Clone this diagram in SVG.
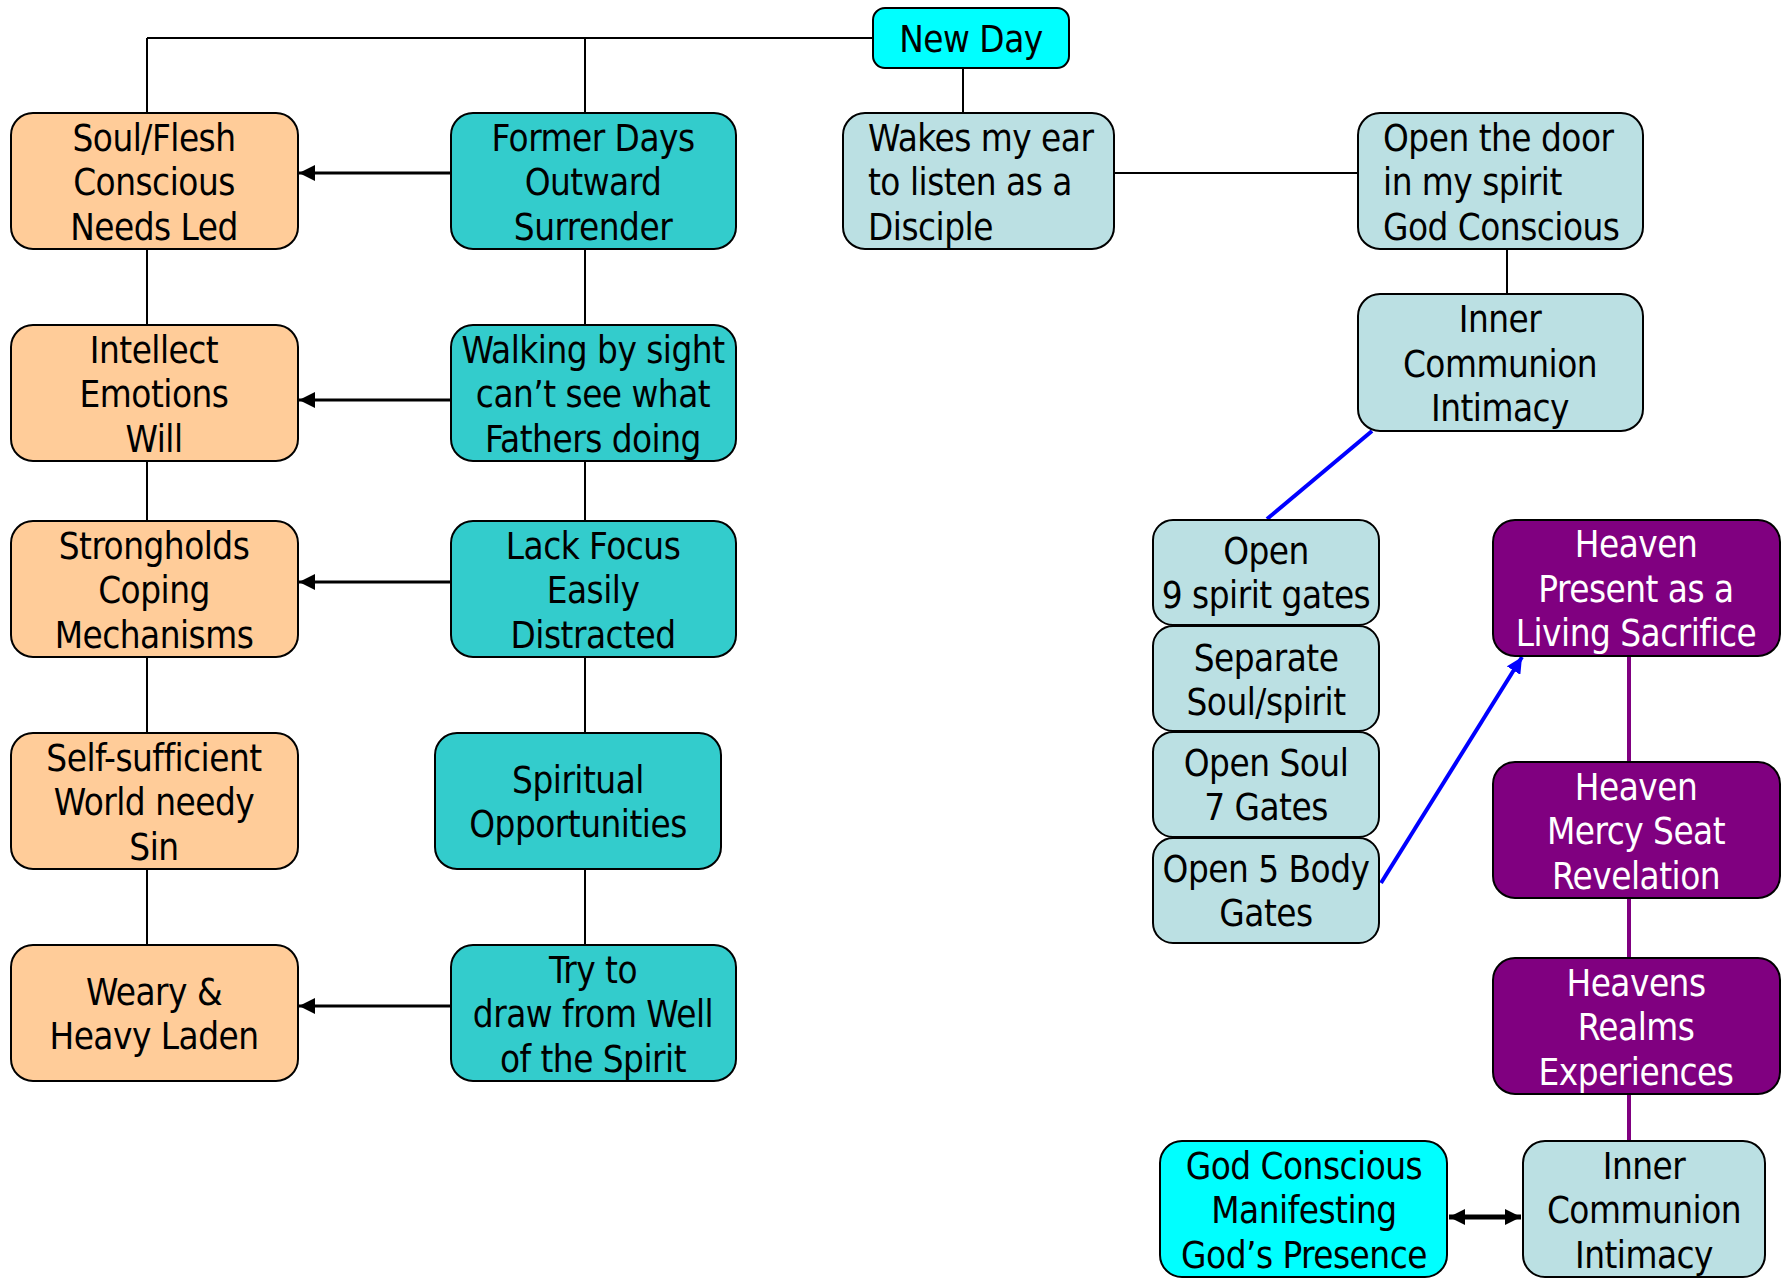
<svg xmlns="http://www.w3.org/2000/svg" width="1789" height="1279" viewBox="0 0 1789 1279">
<style>
.b{stroke:#000;stroke-width:2}
.o{fill:#FFCC99}.t{fill:#33CCCC}.l{fill:#BBE0E3}.c{fill:#00FFFF}.p{fill:#800080}
text{font-family:"DejaVu Sans Condensed","DejaVu Sans",sans-serif;font-stretch:condensed;font-size:36.5px;letter-spacing:-0.5px;fill:#000;text-anchor:middle}
.w{fill:#fff}
.s{text-anchor:start}
.ln{stroke:#000;stroke-width:2;fill:none}
.ar{stroke:#000;stroke-width:3;fill:none}
</style>
<defs>
<marker id="ah" markerUnits="userSpaceOnUse" markerWidth="18" markerHeight="16" refX="16" refY="8" orient="auto"><path d="M0,0 L16,8 L0,16 Z" fill="#000"/></marker>
<marker id="ahs" markerUnits="userSpaceOnUse" markerWidth="18" markerHeight="16" refX="0" refY="8" orient="auto"><path d="M16,0 L0,8 L16,16 Z" fill="#000"/></marker>
<marker id="bh" markerUnits="userSpaceOnUse" markerWidth="18" markerHeight="16" refX="16" refY="8" orient="auto"><path d="M0,0 L16,8 L0,16 Z" fill="#0000FF"/></marker>
</defs>
<g id="connectors">
<path class="ln" d="M147,38 H873 M147,38 V113 M585,38 V113 M147,249 V325 M147,461 V521 M147,657 V733 M147,868 V945 M585,249 V325 M585,461 V521 M585,657 V733 M585,868 V945 M963,68 V113 M1114,173 H1358 M1507,249 V294"/>
<path class="ar" d="M451,173 H299" marker-end="url(#ah)"/>
<path class="ar" d="M451,400 H299" marker-end="url(#ah)"/>
<path class="ar" d="M451,582 H299" marker-end="url(#ah)"/>
<path class="ar" d="M451,1006 H299" marker-end="url(#ah)"/>
<path d="M1372,431 L1267,519" stroke="#0000FF" stroke-width="4" fill="none"/>
<path d="M1381,883 L1522,657" stroke="#0000FF" stroke-width="4" fill="none" marker-end="url(#bh)"/>
<path d="M1629,656 V762 M1629,898 V958 M1629,1094 V1141" stroke="#800080" stroke-width="4" fill="none"/>
<path d="M1449,1217 H1521" stroke="#000" stroke-width="5" fill="none" marker-start="url(#ahs)" marker-end="url(#ah)"/>
</g>
<g id="n-newday"><rect class="b c" x="873" y="8" width="196" height="60" rx="12"/><text x="971" y="52">New Day</text></g>
<g id="n-soul"><rect class="b o" x="11" y="113" width="287" height="136" rx="22"/><text x="154" y="151">Soul/Flesh</text><text x="154" y="195">Conscious</text><text x="154" y="240">Needs Led</text></g>
<g id="n-former"><rect class="b t" x="451" y="113" width="285" height="136" rx="22"/><text x="593" y="151">Former Days</text><text x="593" y="195">Outward</text><text x="593" y="240">Surrender</text></g>
<g id="n-wakes"><rect class="b l" x="843" y="113" width="271" height="136" rx="22"/><text class="s" x="868" y="151">Wakes my ear</text><text class="s" x="868" y="195">to listen as a</text><text class="s" x="868" y="240">Disciple</text></g>
<g id="n-door"><rect class="b l" x="1358" y="113" width="285" height="136" rx="22"/><text class="s" x="1383" y="151">Open the door</text><text class="s" x="1383" y="195">in my spirit</text><text class="s" x="1383" y="240">God Conscious</text></g>
<g id="n-inner1"><rect class="b l" x="1358" y="294" width="285" height="137" rx="22"/><text x="1500" y="332">Inner</text><text x="1500" y="377">Communion</text><text x="1500" y="421">Intimacy</text></g>
<g id="n-intellect"><rect class="b o" x="11" y="325" width="287" height="136" rx="22"/><text x="154" y="363">Intellect</text><text x="154" y="407">Emotions</text><text x="154" y="452">Will</text></g>
<g id="n-walking"><rect class="b t" x="451" y="325" width="285" height="136" rx="22"/><text x="593" y="363">Walking by sight</text><text x="593" y="407">can’t see what</text><text x="593" y="452">Fathers doing</text></g>
<g id="n-strong"><rect class="b o" x="11" y="521" width="287" height="136" rx="22"/><text x="154" y="559">Strongholds</text><text x="154" y="603">Coping</text><text x="154" y="648">Mechanisms</text></g>
<g id="n-lack"><rect class="b t" x="451" y="521" width="285" height="136" rx="22"/><text x="593" y="559">Lack Focus</text><text x="593" y="603">Easily</text><text x="593" y="648">Distracted</text></g>
<g id="n-self"><rect class="b o" x="11" y="733" width="287" height="136" rx="22"/><text x="154" y="771">Self-sufficient</text><text x="154" y="815">World needy</text><text x="154" y="860">Sin</text></g>
<g id="n-spiritual"><rect class="b t" x="435" y="733" width="286" height="136" rx="22"/><text x="578" y="793">Spiritual</text><text x="578" y="837">Opportunities</text></g>
<g id="n-weary"><rect class="b o" x="11" y="945" width="287" height="136" rx="22"/><text x="154" y="1005">Weary &amp;</text><text x="154" y="1049">Heavy Laden</text></g>
<g id="n-try"><rect class="b t" x="451" y="945" width="285" height="136" rx="22"/><text x="593" y="983">Try to</text><text x="593" y="1027">draw from Well</text><text x="593" y="1072">of the Spirit</text></g>
<g id="n-gates9"><rect class="b l" x="1153" y="520" width="226" height="105" rx="20"/><text x="1266" y="564">Open</text><text x="1266" y="608">9 spirit gates</text></g>
<g id="n-separate"><rect class="b l" x="1153" y="626" width="226" height="105" rx="20"/><text x="1266" y="671">Separate</text><text x="1266" y="715">Soul/spirit</text></g>
<g id="n-soul7"><rect class="b l" x="1153" y="732" width="226" height="105" rx="20"/><text x="1266" y="776">Open Soul</text><text x="1266" y="820">7 Gates</text></g>
<g id="n-body5"><rect class="b l" x="1153" y="838" width="226" height="105" rx="20"/><text x="1266" y="882">Open 5 Body</text><text x="1266" y="926">Gates</text></g>
<g id="n-heaven1"><rect class="b p" x="1493" y="520" width="287" height="136" rx="22"/><text class="w" x="1636" y="557">Heaven</text><text class="w" x="1636" y="602">Present as a</text><text class="w" x="1636" y="646">Living Sacrifice</text></g>
<g id="n-heaven2"><rect class="b p" x="1493" y="762" width="287" height="136" rx="22"/><text class="w" x="1636" y="800">Heaven</text><text class="w" x="1636" y="844">Mercy Seat</text><text class="w" x="1636" y="889">Revelation</text></g>
<g id="n-heaven3"><rect class="b p" x="1493" y="958" width="287" height="136" rx="22"/><text class="w" x="1636" y="996">Heavens</text><text class="w" x="1636" y="1040">Realms</text><text class="w" x="1636" y="1085">Experiences</text></g>
<g id="n-godc"><rect class="b c" x="1160" y="1141" width="287" height="136" rx="22"/><text x="1304" y="1179">God Conscious</text><text x="1304" y="1223">Manifesting</text><text x="1304" y="1268">God’s Presence</text></g>
<g id="n-inner2"><rect class="b l" x="1523" y="1141" width="242" height="136" rx="22"/><text x="1644" y="1179">Inner</text><text x="1644" y="1223">Communion</text><text x="1644" y="1268">Intimacy</text></g>
</svg>
